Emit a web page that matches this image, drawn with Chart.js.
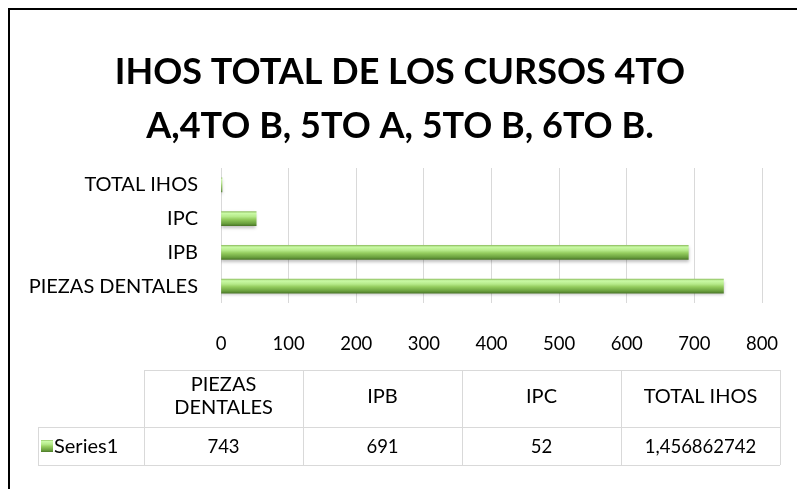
<!DOCTYPE html>
<html>
<head>
<meta charset="utf-8">
<script src="https://cdn.jsdelivr.net/npm/chart.js@4"></script>
<style>
  html, body { margin: 0; padding: 0; background: #fff; }
  #wrap { width: 797px; height: 489px; }
</style>
</head>
<body>
<div id="wrap"><canvas id="myChart" width="797" height="489"></canvas></div>
<script>
// data
var categories = ['PIEZAS DENTALES', 'IPB', 'IPC', 'TOTAL IHOS'];
var series1 = [743, 691, 52, 1.456862742];
var seriesName = 'Series1';
var titleLines = ['IHOS TOTAL DE LOS CURSOS 4TO', 'A,4TO B, 5TO A, 5TO B, 6TO B.'];
var xTicks = [0, 100, 200, 300, 400, 500, 600, 700, 800];

var FONT = 'Lato';
var TXT = 18.5;   // numbers
var LBL = 20;     // words

function barGradient(ctx, top, bottom) {
  var g = ctx.createLinearGradient(0, top, 0, bottom);
  g.addColorStop(0, '#95c568');
  g.addColorStop(0.12, '#cafaa6');
  g.addColorStop(0.35, '#b6ea8a');
  g.addColorStop(0.55, '#94cc5e');
  g.addColorStop(0.85, '#6aa03e');
  g.addColorStop(1, '#4d7a29');
  return g;
}

// frame, title + data table under the chart
var extras = {
  id: 'extras',
  beforeDatasetsDraw: function(chart) {
    var c = chart.ctx;
    c.save();
    c.shadowColor = 'rgba(0,0,0,0.25)';
    c.shadowBlur = 3;
    c.shadowOffsetY = 2;
  },
  afterDatasetsDraw: function(chart) {
    chart.ctx.restore();
  },
  afterDraw: function(chart) {
    var c = chart.ctx;
    c.save();
    // outer frame (left and top only show)
    c.strokeStyle = '#000';
    c.lineWidth = 2;
    c.beginPath();
    c.moveTo(9, 489);
    c.lineTo(9, 9);
    c.lineTo(797, 9);
    c.stroke();

    // title
    c.fillStyle = '#000';
    c.font = 'bold 36px ' + FONT;
    c.textAlign = 'center';
    c.textBaseline = 'middle';
    titleLines.forEach(function(t, k) { c.fillText(t, 400, 72 + k * 54); });

    // table
    var left = 38, first = 144, right = 780;
    var top = 370, mid = 427, bot = 465;
    var n = categories.length;
    var w = (right - first) / n;
    c.strokeStyle = '#d9d9d9';
    c.lineWidth = 1;
    c.beginPath();
    c.moveTo(first, top + 0.5); c.lineTo(right, top + 0.5);
    c.moveTo(left, mid + 0.5); c.lineTo(right, mid + 0.5);
    c.moveTo(left, bot + 0.5); c.lineTo(right, bot + 0.5);
    c.moveTo(left + 0.5, mid); c.lineTo(left + 0.5, bot);
    for (var i = 0; i <= n; i++) {
      var xx = Math.round(first + i * w) + 0.5;
      c.moveTo(xx, top); c.lineTo(xx, bot);
    }
    c.stroke();

    for (var i = 0; i < n; i++) {
      var cx = first + i * w + w / 2;
      var txt = categories[i];
      c.font = LBL + 'px ' + FONT;
      if (c.measureText(txt).width > w - 10 && txt.indexOf(' ') > 0) {
        var parts = txt.split(' ');
        c.fillText(parts[0], cx, 385);
        c.fillText(parts.slice(1).join(' '), cx, 408);
      } else {
        c.fillText(txt, cx, 397);
      }
      c.font = TXT + 'px ' + FONT;
      c.fillText(String(series1[i]).replace('.', ','), cx, 447);
    }
    // legend key
    c.fillStyle = barGradient(c, 440, 452);
    c.fillRect(41, 440, 12, 12);
    c.fillStyle = '#000';
    c.textAlign = 'left';
    c.font = LBL + 'px ' + FONT;
    c.fillText(seriesName, 54, 447);
    c.restore();
  }
};

new Chart(document.getElementById('myChart').getContext('2d'), {
  type: 'bar',
  data: {
    labels: categories,
    datasets: [{
      label: seriesName,
      data: series1,
      barThickness: 14,
      borderWidth: 0,
      backgroundColor: function(ctx) {
        var chart = ctx.chart;
        if (!chart.scales.y || ctx.dataIndex === undefined) return '#8cc456';
        var y = chart.scales.y.getPixelForValue(ctx.dataIndex);
        if (!isFinite(y)) return '#8cc456';
        return barGradient(chart.ctx, y - 7, y + 7);
      }
    }]
  },
  options: {
    indexAxis: 'y',
    responsive: false,
    animation: false,
    layout: { padding: { left: 0, right: 35, top: 168, bottom: 0 } },
    plugins: {
      legend: { display: false },
      tooltip: { enabled: false },
      title: { display: false }
    },
    scales: {
      x: {
        min: 0,
        max: 800,
        afterBuildTicks: function(scale) {
          scale.ticks = xTicks.map(function(v) { return { value: v }; });
        },
        afterFit: function(scale) {
          scale.height = 186;
          scale.paddingLeft = 0;
          scale.paddingRight = 0;
        },
        grid: { color: '#d9d9d9', drawTicks: false },
        border: { display: false },
        ticks: { color: '#000', font: { family: FONT, size: TXT }, padding: 30, maxRotation: 0 }
      },
      y: {
        reverse: true,
        afterFit: function(scale) { scale.width = 221; },
        grid: { display: false },
        border: { display: false },
        ticks: { color: '#000', font: { family: FONT, size: LBL }, padding: 15 }
      }
    }
  },
  plugins: [extras]
});
</script>
</body>
</html>
